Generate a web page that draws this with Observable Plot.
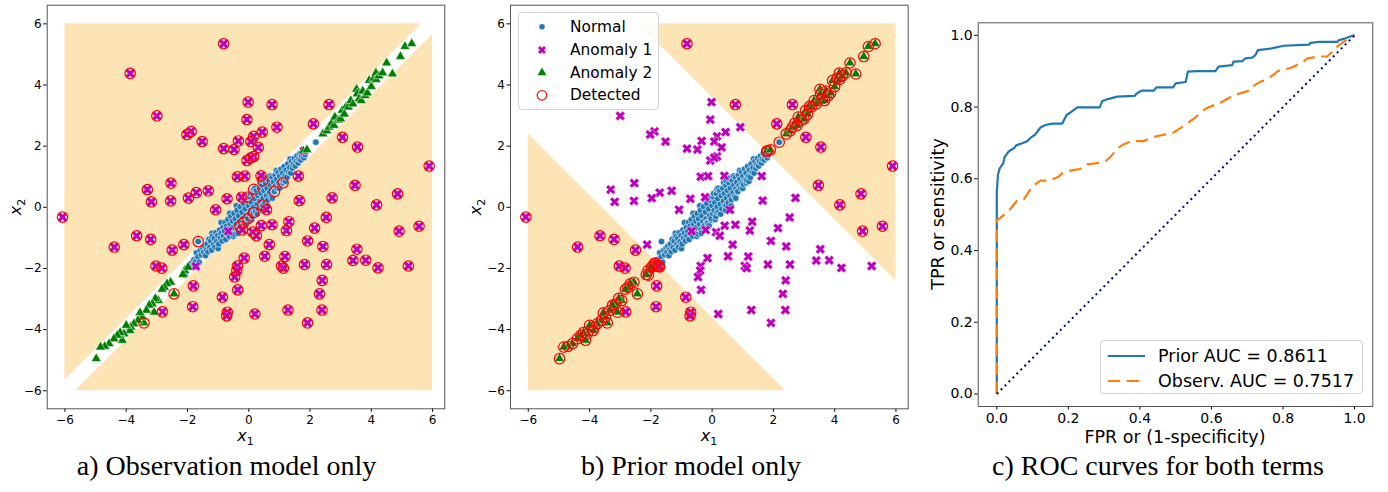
<!DOCTYPE html>
<html><head><meta charset="utf-8">
<script src="https://cdn.jsdelivr.net/npm/d3@7"></script>
<script src="https://cdn.jsdelivr.net/npm/@observablehq/plot@0.6"></script>
<style>
body{margin:0;background:#fff;}
#wrap{position:relative;width:1388px;height:492px;font-family:"DejaVu Sans",sans-serif;color:#000;}
.panel{position:absolute;top:0;}
.lab{position:absolute;white-space:nowrap;transform:translate(-50%,-50%);}
.rot{transform:translate(-50%,-50%) rotate(-90deg);}
.cap{position:absolute;white-space:nowrap;transform:translate(-50%,-50%);font-family:"Liberation Serif",serif;font-size:28px;}
.legend{position:absolute;background:rgba(255,255,255,0.85);border:1px solid #d4d4d4;border-radius:4px;box-sizing:border-box;}
.legend svg{position:absolute;left:0;top:0;overflow:visible;}
</style></head>
<body><div id="wrap">
<div id="pa" class="panel" style="left:0"></div>
<div id="pb" class="panel" style="left:460px"></div>
<div id="pc" class="panel" style="left:920px"></div>
<div class="lab" style="left:245.5px;top:437px;font-size:16px"><i>x</i><sub style="font-size:11px">1</sub></div>
<div class="lab rot" style="left:17px;top:207px;font-size:16px"><i>x</i><sub style="font-size:11px">2</sub></div>
<div class="lab" style="left:709px;top:437px;font-size:16px"><i>x</i><sub style="font-size:11px">1</sub></div>
<div class="lab rot" style="left:477px;top:207px;font-size:16px"><i>x</i><sub style="font-size:11px">2</sub></div>
<div class="lab" style="left:1175px;top:437px;font-size:17.5px">FPR or (1-specificity)</div>
<div class="lab rot" style="left:938px;top:214px;font-size:17.5px">TPR or sensitivity</div>
<div class="cap" style="left:226.5px;top:466px">a) Observation model only</div>
<div class="cap" style="left:691px;top:466px">b) Prior model only</div>
<div class="cap" style="left:1158px;top:466px">c) ROC curves for both terms</div>
<div id="legB" class="legend" style="left:518px;top:12px;width:141px;height:98px"></div>
<div id="legC" class="legend" style="left:1100px;top:340px;width:263px;height:54px"></div>
</div>
<script>
// ---------------- data ----------------
const xyTicks = [-6, -4, -2, 0, 2, 4, 6];
const rocTicks = [0, 0.2, 0.4, 0.6, 0.8, 1.0];
const bandHalfWidth = 0.35;   // observation model: undetected band |x2 - x1| < 0.35
const priorThreshold = 3.6;   // prior model: detected where |x1 + x2| > 3.6
const regionLimit = 6;

const normal = [
[-2.08,-2.22],[-1.93,-1.9],[-1.88,-1.84],[-1.86,-1.82],[-1.83,-1.93],[-1.79,-1.72],[-1.76,-1.9],[-1.74,-1.78],[-1.71,-1.95],[-1.71,-1.49],
[-1.66,-1.62],[-1.65,-1.12],[-1.62,-1.8],[-1.58,-1.41],[-1.55,-1.55],[-1.5,-1.33],[-1.47,-1.47],[-1.44,-1.27],[-1.41,-1.58],[-1.38,-1.39],
[-1.36,-1.2],[-1.33,-1.45],[-1.3,-1.05],[-1.27,-1.31],[-1.24,-1.1],[-1.21,-1.4],[-1.2,-0.85],[-1.18,-0.95],[-1.15,-1.22],[-1.12,-1.02],[-1.1,-1.3],
[-1.07,-0.83],[-1.04,-1.12],[-1.01,-0.92],[-1.0,-1.35],[-0.98,-1.2],[-0.95,-0.74],[-0.93,-1.0],[-0.9,-0.85],[-0.9,-0.5],[-0.87,-1.1],[-0.84,-0.66],[-0.82,-0.93],
[-0.79,-0.78],[-0.77,-0.5],[-0.75,-1.05],[-0.72,-0.62],[-0.7,-0.88],[-0.68,-0.4],[-0.65,-0.72],[-0.63,-0.95],[-0.62,-0.2],[-0.6,-0.55],[-0.58,-0.3],
[-0.56,-0.8],[-0.53,-0.45],[-0.51,-0.66],[-0.5,-0.95],[-0.48,-0.2],[-0.46,-0.88],[-0.44,-0.38],[-0.41,-0.56],[-0.4,0.05],[-0.38,-0.1],[-0.36,-0.72],[-0.35,-0.85],[-0.33,-0.28],
[-0.3,-0.47],[-0.29,-0.63],[-0.28,0.02],[-0.25,-0.6],[-0.22,-0.16],[-0.2,-0.38],[-0.2,0.2],[-0.17,0.12],[-0.16,-0.49],[-0.14,-0.52],[-0.11,-0.05],[-0.1,-0.6],
[-0.08,-0.27],[-0.05,0.22],[-0.05,0.33],[-0.03,-0.42],[-0.03,-0.37],[0.0,0.05],[0.02,-0.2],[0.04,0.34],[0.05,0.45],[0.07,-0.1],[0.09,0.15],[0.1,-0.4],
[0.12,-0.3],[0.14,0.45],[0.16,0.59],[0.16,-0.17],[0.17,0.02],[0.19,0.28],[0.2,0.62],[0.22,-0.15],[0.25,0.55],[0.27,0.1],[0.28,-0.22],[0.3,0.38],
[0.32,-0.05],[0.35,0.62],[0.37,0.2],[0.38,0.8],[0.4,0.45],[0.42,0.05],[0.44,-0.1],[0.45,0.72],[0.46,0.87],[0.46,0.07],[0.47,0.3],[0.5,0.55],
[0.53,0.15],[0.55,0.8],[0.55,0.95],[0.58,0.38],[0.6,0.62],[0.62,0.05],[0.63,0.25],[0.66,0.88],[0.68,0.48],[0.7,1.02],[0.71,0.72],[0.73,0.35],[0.76,0.98],
[0.77,0.3],[0.78,0.6],[0.81,0.82],[0.83,0.5],[0.84,0.52],[0.86,1.05],[0.88,0.7],[0.9,1.2],[0.91,0.92],[0.93,0.62],[0.96,1.15],[0.98,0.8],
[1.0,0.62],[1.01,1.02],[1.03,0.75],[1.06,1.25],[1.08,0.9],[1.11,1.12],[1.12,0.8],[1.13,0.88],[1.16,1.33],[1.19,1.02],[1.2,0.85],[1.22,1.22],
[1.25,0.98],[1.28,1.42],[1.31,1.15],[1.34,1.3],[1.35,1.58],[1.37,1.12],[1.4,1.5],[1.43,1.28],[1.46,1.4],[1.49,1.6],[1.52,1.35],
[1.55,1.5],[1.58,1.68],[1.61,1.45],[1.64,1.58],[1.67,1.75],[1.7,1.55],[1.73,1.68],[1.77,1.8],[1.8,1.62],[1.84,1.72],
[2.19,2.13]
];

const anomaly1 = [
[-0.82,5.35],[-3.87,4.38],[-0.02,3.44],[0.76,3.36],[-3.0,2.99],[-0.06,2.87],[0.92,2.62],[2.62,3.36],[2.11,2.73],[-1.88,2.48],
[-2.02,2.38],[-1.52,2.15],[-0.34,2.17],[0.16,2.32],[0.44,2.46],[0.07,2.15],[0.31,1.96],[-0.82,1.92],[-0.48,1.89],[3.06,2.29],
[3.55,1.97],[-0.06,1.53],[0.16,1.66],[0.07,1.62],[5.89,1.35],[-0.37,1.0],[-0.13,1.02],[0.40,1.03],[1.62,1.02],[-3.31,0.58],
[-2.54,0.79],[-1.71,0.48],[-1.32,0.54],[-3.18,0.18],[-2.55,0.21],[-1.97,0.30],[-0.71,0.28],[1.65,0.22],[2.72,0.31],[3.47,0.72],
[4.86,0.44],[4.17,0.08],[-6.08,-0.32],[-1.08,-0.08],[0.58,-0.08],[5.56,-0.62],[4.91,-0.78],[2.53,-0.33],[2.15,-0.68],[1.31,-0.47],
[1.23,-0.76],[0.76,-0.57],[0.41,-0.60],[0.13,-0.81],[0.25,-0.93],[-0.21,-0.74],[-0.67,-0.78],[-3.66,-0.93],[-3.2,-1.05],[-4.39,-1.30],
[-2.5,-1.40],[-2.12,-1.22],[0.67,-1.22],[1.92,-1.10],[2.42,-1.28],[3.53,-1.37],[-0.15,-1.66],[0.52,-1.60],[1.18,-1.61],[3.40,-1.74],
[3.82,-1.73],[-3.03,-1.92],[-2.84,-1.99],[-0.37,-1.92],[-0.39,-2.07],[1.07,-1.92],[1.13,-1.99],[1.82,-1.87],[2.54,-1.87],[4.22,-1.98],
[5.21,-1.92],[-1.81,-2.57],[-0.46,-2.28],[2.40,-2.39],[-0.36,-2.70],[-0.86,-2.94],[2.31,-2.83],[-1.83,-3.25],[-2.82,-3.42],[-0.70,-3.43],
[-0.72,-3.55],[0.20,-3.49],[1.28,-3.36],[2.39,-3.36],[1.92,-3.78],[-1.73,-1.93],[1.80,1.84],[-0.23,0.33]
];

const anomaly2 = [
[1.78,1.84],[1.9,1.88],[2.42,2.40],[2.55,2.5],[2.62,2.62],[2.7,2.75],[2.78,2.68],[2.81,2.95],[2.92,2.85],[3.0,2.89],
[3.05,3.17],[3.12,3.05],[3.18,3.3],[3.25,3.28],[3.33,3.49],[3.4,3.38],[3.52,3.86],[3.54,3.71],[3.6,3.55],[3.67,3.49],
[3.72,3.8],[3.8,3.65],[3.87,3.74],[3.93,4.15],[4.0,3.95],[4.08,4.22],[4.15,4.39],[4.16,4.18],[4.25,4.3],[4.37,4.40],
[4.50,4.72],[4.69,4.36],[4.95,4.93],[5.10,5.26],[5.32,5.35],
[-2.09,-2.07],[-2.15,-2.2],[-1.98,-1.96],[-2.44,-2.83],[-2.55,-2.45],[-2.67,-2.50],[-2.75,-2.62],[-2.83,-2.68],[-2.95,-3.05],[-3.05,-2.98],
[-3.09,-3.43],[-3.15,-3.16],[-3.25,-3.2],[-3.34,-3.37],[-3.42,-3.78],[-3.48,-3.59],[-3.55,-3.45],[-3.62,-3.7],[-3.75,-3.81],[-3.85,-3.92],
[-3.88,-4.03],[-4.0,-3.86],[-4.07,-4.14],[-4.13,-4.35],[-4.2,-4.1],[-4.29,-4.19],[-4.4,-4.3],[-4.56,-4.46],[-4.7,-4.55],[-4.84,-4.57],[-4.98,-4.95]
];

// false positives / extra detections of the observation model (panel a)
const detectedAExtra = [
[-1.65,-1.12],[-0.05,0.33],[0.16,0.59],[0.46,0.87],[0.84,0.52],[1.12,0.80],[0.46,0.07],[-0.29,-0.63],[-0.03,-0.37],[0.16,-0.17],
[-0.16,-0.49],[-2.44,-2.83],[-3.42,-3.78]
];

const priorFpr = [0,0,0.003,0.008,0.018,0.022,0.034,0.048,0.055,0.071,0.085,0.094,0.108,0.122,0.136,0.155,0.183,0.195,0.206,0.225,0.288,0.295,0.313,0.337,0.385,0.391,0.406,0.439,0.446,0.493,0.5,0.528,0.534,0.56,0.611,0.62,0.658,0.662,0.686,0.695,0.714,0.723,0.73,0.765,0.802,0.872,0.877,0.9,0.952,0.955,0.975,0.994,1];
const priorTpr = [0,0.564,0.61,0.629,0.643,0.661,0.677,0.685,0.694,0.699,0.705,0.714,0.724,0.743,0.75,0.754,0.754,0.778,0.785,0.799,0.799,0.817,0.823,0.829,0.831,0.838,0.846,0.846,0.855,0.855,0.866,0.87,0.899,0.9,0.9,0.913,0.917,0.927,0.928,0.936,0.938,0.945,0.959,0.963,0.971,0.974,0.979,0.982,0.982,0.986,0.992,0.999,1];
const observFpr = [0,0,0.01,0.034,0.043,0.057,0.075,0.092,0.104,0.122,0.148,0.173,0.183,0.211,0.232,0.253,0.276,0.304,0.318,0.337,0.351,0.374,0.41,0.439,0.472,0.486,0.514,0.551,0.584,0.626,0.663,0.709,0.714,0.737,0.751,0.779,0.784,0.821,0.858,0.868,0.9,0.923,0.942,0.952,0.971,1];
const observTpr = [0,0.485,0.491,0.512,0.522,0.54,0.542,0.568,0.582,0.595,0.595,0.606,0.615,0.624,0.627,0.64,0.643,0.649,0.661,0.685,0.694,0.705,0.705,0.717,0.724,0.724,0.742,0.768,0.796,0.813,0.833,0.847,0.857,0.871,0.875,0.894,0.9,0.909,0.927,0.936,0.941,0.941,0.957,0.969,0.983,1];
const chanceFpr = [0, 1];
const chanceTpr = [0, 1];

const seriesNames = ["Normal", "Anomaly 1", "Anomaly 2", "Detected"];
const rocNames = ["Prior AUC = 0.8611", "Observ. AUC = 0.7517"];

// ---------------- styles ----------------
const C = {normal:"#1f77b4", a1:"#bf00bf", a2:"#008000", det:"#ff0000", region:"#fde4b4",
           prior:"#1f77b4", observ:"#ff7f0e", chance:"#000080", frame:"#555"};

const xSymbol = {
  draw(ctx, size) {
    const r = Math.sqrt(size / Math.PI), w = r * 0.34, c = Math.SQRT1_2;
    const p = [[w,r],[w,w],[r,w],[r,-w],[w,-w],[w,-r],[-w,-r],[-w,-w],[-r,-w],[-r,w],[-w,w],[-w,r]];
    p.forEach(([a,b], i) => { const X = (a - b) * c, Y = (a + b) * c; i ? ctx.lineTo(X, Y) : ctx.moveTo(X, Y); });
    ctx.closePath();
  }
};

const L = regionLimit;
const regionsA = [
  [{x:-L, y1:-L + bandHalfWidth, y2:L}, {x:L - bandHalfWidth, y1:L, y2:L}],
  [{x:-L + bandHalfWidth, y1:-L, y2:-L}, {x:L, y1:-L, y2:L - bandHalfWidth}]
];
const regionsB = [
  [{x:priorThreshold - L, y1:L, y2:L}, {x:L, y1:priorThreshold - L, y2:L}],
  [{x:-L, y1:-L, y2:L - priorThreshold}, {x:L - priorThreshold, y1:-L, y2:-L}]
];
const allPoints = [...normal, ...anomaly1, ...anomaly2];
const detectedA = [...anomaly1.filter(([a, b]) => Math.abs(b - a) > bandHalfWidth), ...detectedAExtra];
const detectedB = allPoints.filter(([a, b]) => Math.abs(a + b) > priorThreshold);

const px = d => d[0], py = d => d[1];

function scatter(regions, detected, ml, mr) {
  return Plot.plot({
    width: 460, height: 430,
    marginLeft: ml, marginRight: mr, marginTop: 4.7, marginBottom: 21.7,
    style: {fontFamily: "DejaVu Sans", fontSize: "12px", color: "#000", background: "transparent", overflow: "visible"},
    x: {domain: [-6.58, 6.40], ticks: xyTicks, label: null, tickSize: 3.5, tickPadding: 3},
    y: {domain: [-6.59, 6.61], ticks: xyTicks, label: null, tickSize: 3.5, tickPadding: 2},
    marks: [
      ...regions.map(r => Plot.areaY(r, {x: "x", y1: "y1", y2: "y2", fill: C.region})),
      Plot.dot(normal, {x: px, y: py, r: 3.3, fill: C.normal, stroke: "white", strokeWidth: 0.6}),
      Plot.dot(anomaly1, {x: px, y: py, r: 5.2, symbol: xSymbol, fill: C.a1, stroke: "white", strokeWidth: 0.5}),
      Plot.dot(anomaly2, {x: px, y: py, r: 3.7, symbol: "triangle", fill: C.a2, stroke: "white", strokeWidth: 0.5}),
      Plot.dot(detected, {x: px, y: py, r: 5.2, fill: "none", stroke: C.det, strokeWidth: 1.2}),
      Plot.frame({stroke: C.frame})
    ]
  });
}

document.getElementById("pa").append(scatter(regionsA, detectedA, 46.7, 15.7));
document.getElementById("pb").append(scatter(regionsB, detectedB, 50, 12.3));

const rows = (xs, ys) => xs.map((v, i) => ({fpr: v, tpr: ys[i]}));
const roc = Plot.plot({
  width: 468, height: 430,
  marginLeft: 57.7, marginRight: 15.7, marginTop: 22.3, marginBottom: 24,
  style: {fontFamily: "DejaVu Sans", fontSize: "14px", color: "#000", background: "transparent", overflow: "visible"},
  x: {domain: [-0.052, 1.051], ticks: rocTicks, tickFormat: d3.format(".1f"), label: null, tickSize: 3.5, tickPadding: 3},
  y: {domain: [-0.035, 1.035], ticks: rocTicks, tickFormat: d3.format(".1f"), label: null, tickSize: 3.5, tickPadding: 2},
  marks: [
    Plot.line(rows(priorFpr, priorTpr), {x: "fpr", y: "tpr", stroke: C.prior, strokeWidth: 2.2, strokeLinecap: "butt"}),
    Plot.line(rows(observFpr, observTpr), {x: "fpr", y: "tpr", stroke: C.observ, strokeWidth: 2.2, strokeDasharray: "12.5,6.5", strokeLinecap: "butt"}),
    Plot.line(rows(chanceFpr, chanceTpr), {x: "fpr", y: "tpr", stroke: C.chance, strokeWidth: 2, strokeDasharray: "2,3.6", strokeLinecap: "butt"}),
    Plot.frame({stroke: C.frame})
  ]
});
document.getElementById("pc").append(roc);

// ---------------- legends ----------------
const NS = "http://www.w3.org/2000/svg";
function svgEl(tag, attrs) { const e = document.createElementNS(NS, tag); for (const k in attrs) e.setAttribute(k, attrs[k]); return e; }

// legend of panel b
{
  const box = document.getElementById("legB");
  const s = svgEl("svg", {width: 141, height: 98});
  const mx = 23, tx = 51, ys = [13.7, 37, 59.7, 82.3];
  s.append(svgEl("circle", {cx: mx, cy: ys[0], r: 2.8, fill: C.normal}));
  s.append(svgEl("path", {d: d3.symbol(xSymbol, Math.PI * 4.2 * 4.2)(), transform: `translate(${mx},${ys[1]})`, fill: C.a1}));
  s.append(svgEl("path", {d: d3.symbol(d3.symbolTriangle, Math.PI * 3.3 * 3.3)(), transform: `translate(${mx},${ys[2]})`, fill: C.a2}));
  s.append(svgEl("circle", {cx: mx, cy: ys[3], r: 4.8, fill: "none", stroke: C.det, "stroke-width": 1.2}));
  seriesNames.forEach((n, i) => {
    const t = svgEl("text", {x: tx, y: ys[i], "dominant-baseline": "central", "font-family": "DejaVu Sans", "font-size": "15.4px"});
    t.textContent = n; s.append(t);
  });
  box.append(s);
}
// legend of panel c
{
  const box = document.getElementById("legC");
  const s = svgEl("svg", {width: 263, height: 54});
  const ys = [15, 40];
  s.append(svgEl("line", {x1: 6.7, x2: 44, y1: ys[0], y2: ys[0], stroke: C.prior, "stroke-width": 2.2}));
  s.append(svgEl("line", {x1: 6.7, x2: 44, y1: ys[1], y2: ys[1], stroke: C.observ, "stroke-width": 2.2, "stroke-dasharray": "12.5,6.5"}));
  rocNames.forEach((n, i) => {
    const t = svgEl("text", {x: 57, y: ys[i], "dominant-baseline": "central", "font-family": "DejaVu Sans", "font-size": "17.5px"});
    t.textContent = n; s.append(t);
  });
  box.append(s);
}
</script>
</body></html>
